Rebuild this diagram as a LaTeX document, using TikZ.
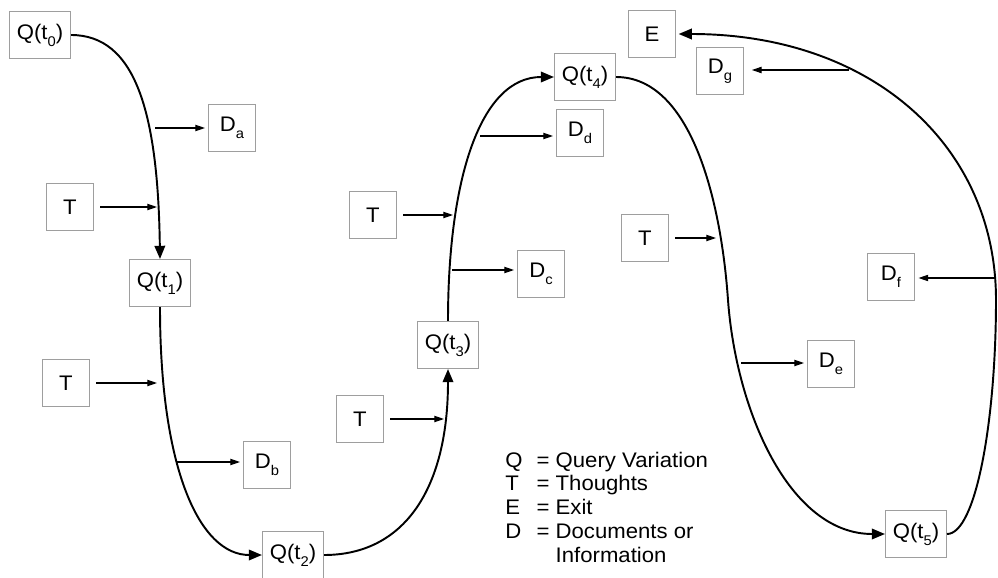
\documentclass[tikz,border=0pt]{standalone}
\usepackage{fontspec}
\setmainfont{Liberation Sans}[FakeStretch=1.05]
\usetikzlibrary{arrows.meta}
\definecolor{boxgray}{HTML}{9E9E9E}
\newcommand{\lowsub}[1]{\raisebox{-4pt}{\fontsize{8}{9}\selectfont #1}}

\begin{document}
\begin{tikzpicture}[x=0.02cm, y=-0.02cm,
    box/.style={draw=boxgray, line width=0.6pt, minimum width=0.94cm, minimum height=0.94cm, inner sep=0pt, font=\fontsize{12}{14}\selectfont},
    qbox/.style={box, minimum width=1.22cm},
    flow/.style={line width=1.1pt, -{Triangle[length=7.5pt,width=6pt]}},
    arrow/.style={line width=0.6pt, -{Triangle[length=5.5pt,width=3.6pt]}}
]
    \useasboundingbox (0,0) rectangle (998,578);

    % query variations and exit
    \node[qbox] (q0) at (40,35) {Q(t\lowsub{0})};
    \node[qbox] (q1) at (160,283) {Q(t\lowsub{1})};
    \node[qbox] (q2) at (293,555) {Q(t\lowsub{2})};
    \node[qbox] (q3) at (448,345) {Q(t\lowsub{3})};
    \node[qbox] (q4) at (585,77) {Q(t\lowsub{4})};
    \node[qbox] (q5) at (916,534) {Q(t\lowsub{5})};
    \node[box] (exit) at (652,34) {E};

    % documents
    \node[box] (da) at (232,128) {D\lowsub{a}};
    \node[box] (db) at (267,465) {D\lowsub{b}};
    \node[box] (dc) at (541,274) {D\lowsub{c}};
    \node[box] (dd) at (580,133) {D\lowsub{d}};
    \node[box] (de) at (831,364) {D\lowsub{e}};
    \node[box] (df) at (891,277) {D\lowsub{f}};
    \node[box] (dg) at (720,71) {D\lowsub{g}};

    % thoughts
    \node[box] (th1) at (70,207) {T};
    \node[box] (th2) at (66,383) {T};
    \node[box] (th3) at (360,419) {T};
    \node[box] (th4) at (373,215) {T};
    \node[box] (th5) at (645,238) {T};

    % main path
    \coordinate (turn1) at (728,300);
    \coordinate (turn2) at (996,300);
    \draw[flow] (q0.east) .. controls +(64,0) and +(-2,-148) .. (q1.north);
    \draw[flow] (q1.south) .. controls +(0,163) and +(-62,0) .. (q2.west);
    \draw[flow] (q2.east) .. controls +(80,0) and +(0,120) .. (q3.south);
    \draw[flow] (q3.north) .. controls +(0,-141) and +(-74,0) .. (q4.west);
    \draw[flow] (q4.east) .. controls +(75,0) and +(-7,-100) .. (turn1)
        .. controls +(8,110) and +(-96,0) .. (q5.west);
    \draw[flow, shorten >=1.5pt] (q5.east) .. controls +(29,0) and +(0,120) .. (turn2)
        .. controls +(0,-155) and +(195,0) .. (exit.east);

    % points on the path
    \coordinate (pa) at (155,128);
    \coordinate (pb) at (177,462);
    \coordinate (pc) at (452,270);
    \coordinate (pd) at (480,136);
    \coordinate (pe) at (741,363);
    \coordinate (pf) at (996,278);
    \coordinate (pg) at (849,70);
    \coordinate (pt1) at (157,208);
    \coordinate (pt2) at (157,384);
    \coordinate (pt3) at (444,420);
    \coordinate (pt4) at (453,214);
    \coordinate (pt5) at (716,236);

    \draw[arrow, shorten >=1.7pt] (pa) -- (pa -| da.west);
    \draw[arrow, shorten >=1.7pt] (pb) -- (pb -| db.west);
    \draw[arrow, shorten >=1.7pt] (pc) -- (pc -| dc.west);
    \draw[arrow, shorten >=1.7pt] (pd) -- (pd -| dd.west);
    \draw[arrow, shorten >=1.7pt] (pe) -- (pe -| de.west);
    \draw[arrow, shorten >=2pt] (pf) -- (pf -| df.east);
    \draw[arrow, shorten >=4.5pt] (pg) -- (pg -| dg.east);

    \draw[arrow, shorten <=3.5pt] (th1.east) -- (th1.east -| pt1);
    \draw[arrow, shorten <=3.5pt] (th2.east) -- (th2.east -| pt2);
    \draw[arrow, shorten <=3.5pt] (th3.east) -- (th3.east -| pt3);
    \draw[arrow, shorten <=3.5pt] (th4.east) -- (th4.east -| pt4);
    \draw[arrow, shorten <=3.5pt] (th5.east) -- (th5.east -| pt5);

    % legend
    \node[anchor=north west, inner sep=0pt, font=\fontsize{12}{13.6}\selectfont] (legend) at (505,450) {%
        \begin{tabular}{@{}l@{\hspace{8pt}}l@{\hspace{3.5pt}}l@{}}
            Q & = & Query Variation\\
            T & = & Thoughts\\
            E & = & Exit\\
            D & = & Documents or\\
              &   & Information
        \end{tabular}};
\end{tikzpicture}
\end{document}
